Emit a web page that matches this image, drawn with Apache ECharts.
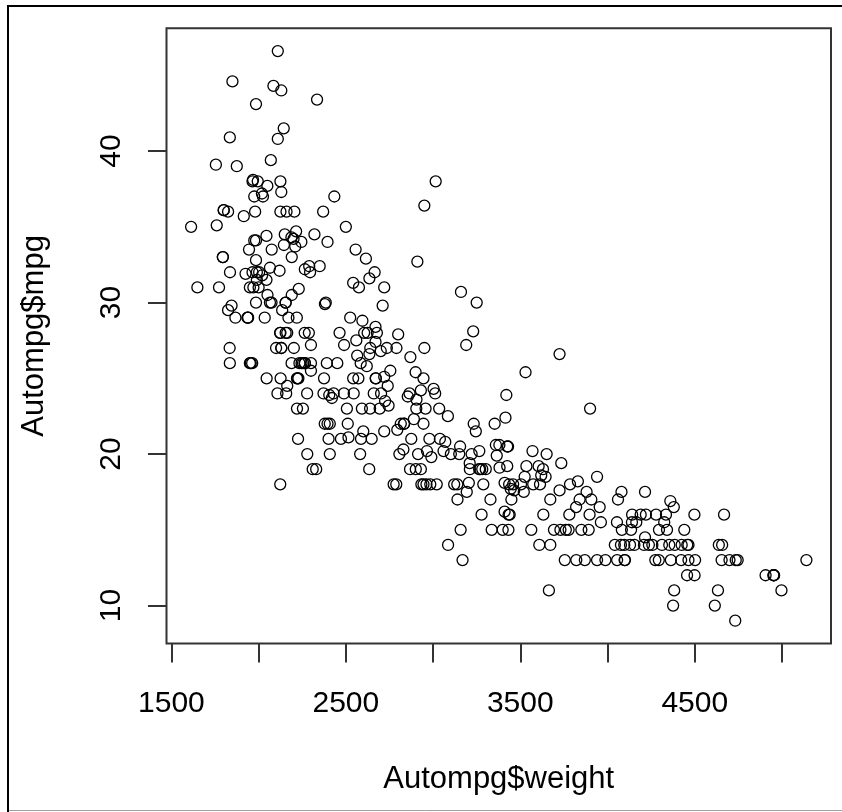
<!DOCTYPE html>
<html>
<head>
<meta charset="utf-8">
<script src="https://cdn.jsdelivr.net/npm/echarts@6/dist/echarts.min.js"></script>
<style>
html,body{margin:0;padding:0;background:#fff;}
#chart{width:842px;height:812px;}
</style>
</head>
<body>
<div id="chart"></div>
<script>
var weight = [3504,3693,3436,3433,3449,4341,4354,4312,4425,3850,3563,3609,3761,3086,2372,2833,2774,2587,2130,1835,
2672,2430,2375,2234,2648,4615,4376,4382,4732,2130,2264,2228,2046,2634,3439,3329,3302,3288,4209,4464,
4154,4096,4955,4746,5140,2962,2408,3282,3139,2220,2123,2074,2065,1773,1613,1834,1955,2278,2126,2254,
2408,2226,4274,4385,4135,4129,3672,4633,4502,4456,4422,2330,3892,4098,4294,4077,2933,2511,2979,2189,
2395,2288,2506,2164,2100,4100,3672,3988,4042,3777,4952,4464,4363,4237,4735,4951,3821,3121,3278,2945,
3021,2904,1950,4997,4906,4654,4499,2789,2279,2401,2379,2124,2310,2472,2265,4082,4278,1867,2158,2582,
2868,3399,2660,2807,3664,3102,2875,2901,3336,1950,2451,1836,2542,3781,3632,3613,4141,4699,4457,4638,
4257,2219,1963,2300,1649,2003,2125,2108,2246,2489,2391,2000,3264,3459,3432,3158,4668,4440,4498,4657,
3907,3897,3730,3785,3039,3221,3169,2171,2639,2914,2592,2702,2223,2545,2984,1937,3211,2694,2957,2945,
2671,1795,2464,2220,2572,2255,2202,4215,4190,3962,4215,3233,3353,3012,3085,2035,2164,1937,1795,3651,
3574,3645,3193,1825,1990,2155,2565,3150,3940,3270,2930,3820,4380,4055,3870,3755,2045,2155,1825,2300,
1945,3880,4060,4140,4295,3520,3425,3630,3525,4220,4165,4325,4335,1940,2740,2265,2755,2051,2075,1985,
2190,2815,2600,2720,1985,1800,1985,2070,1800,3365,3735,3570,3535,3155,2965,2720,3430,3210,3380,3070,
3620,3410,3425,3445,3205,4080,2155,2560,2300,2230,2515,2745,2855,2405,2830,3140,2795,3410,1990,2135,
3245,2990,2890,3265,3360,3840,3725,3955,3830,4360,4054,3605,3940,1925,1975,1915,2670,3530,3900,3190,
3420,2200,2150,2020,2130,2670,2595,2700,2556,2144,1968,2120,2019,2678,2870,3003,3381,2188,2711,2542,
2434,2265,2110,2800,2110,2085,2335,2950,3250,1850,1835,2145,1845,2910,2420,2500,2905,2290,2490,2635,
2620,2725,2385,1755,1875,1760,2065,1975,2050,1985,2215,2045,2380,2190,2320,2210,2350,2615,2635,3230,
3160,2900,2930,3415,3725,3060,3465,2605,2640,2395,2575,2525,2735,2865,3035,1980,2025,1970,2125,2125,
2160,2205,2245,1965,1965,1995,2945,3015,2585,2835,2665,2370,2950,2790,2130,2295,2625,2720];

var mpg = [18,15,18,16,17,15,14,14,14,15,15,14,15,14,24,22,18,21,27,26,
25,24,25,26,21,10,10,11,9,27,28,25,25,19,16,17,19,18,14,14,
14,14,12,13,13,18,22,19,18,23,28,30,30,31,35,27,26,24,25,23,
20,21,13,14,15,14,17,11,13,12,13,19,15,13,13,14,18,22,21,26,
22,28,23,28,27,13,14,13,14,15,12,13,13,14,13,12,13,18,16,18,
18,23,26,11,12,13,12,18,20,21,22,18,19,21,26,15,16,29,24,20,
19,15,24,20,11,20,21,19,15,31,26,32,25,16,16,18,16,13,14,14,
14,29,26,26,31,32,28,24,26,24,26,31,19,18,15,15,16,15,16,14,
17,16,15,18,21,20,13,29,23,20,23,24,25,24,18,29,19,23,23,22,
25,33,28,25,25,26,27,17.5,16,15.5,14.5,22,22,24,22.5,29,24.5,29,33,20,
18,18.5,17.5,29.5,32,28,26.5,20,13,19,19,16.5,16.5,13,13,13,31.5,30,36,25.5,
33.5,17.5,17,15.5,15,17.5,20.5,19,18.5,16,15.5,15.5,16,29,24.5,26,25.5,30.5,33.5,30,
30.5,22,21.5,21.5,43.1,36.1,32.8,39.4,36.1,19.9,19.4,20.2,19.2,20.5,20.2,25.1,20.5,19.4,20.6,20.8,
18.6,18.1,19.2,17.7,18.1,17.5,30,27.5,27.2,30.9,21.1,23.2,23.8,23.9,20.3,17,21.6,16.2,31.5,29.5,
21.5,19.8,22.3,20.2,20.6,17,17.6,16.5,18.2,16.9,15.5,19.2,18.5,31.9,34.1,35.7,27.4,25.4,23,27.2,
23.9,34.2,34.5,31.8,37.3,28.4,28.8,26.8,33.5,41.5,38.1,32.1,37.2,28,26.4,24.3,19.1,34.3,29.8,31.3,
37,32.2,46.6,27.9,40.8,44.3,43.4,36.4,30,44.6,40.9,33.8,29.8,32.7,23.7,35,23.6,32.4,27.2,26.6,
25.8,23.5,30,39.1,39,35.1,32.3,37,37.7,34.1,34.7,34.4,29.9,33,34.5,33.7,32.4,32.9,31.6,28.1,
30.7,25.4,24.2,22.4,26.6,20.2,17.6,28,27,34,31,29,27,24,23,36,37,31,38,36,
36,36,34,38,32,38,25,38,26,22,32,36,27,27,44,32,28,31];

var xTickValues = [1500,2000,2500,3000,3500,4000,4500,5000];
var xLabelValues = [1500,2500,3500,4500];
var yTickValues = [10,20,30,40];
var yLabelValues = [10,20,30,40];

var points = weight.map(function (w, i) { return [w, mpg[i]]; });

var FONT = "'Liberation Sans', Arial, sans-serif";
var plain = function (v) { return String(v); };
var chart = echarts.init(document.getElementById('chart'), null, {renderer: 'canvas'});
chart.setOption({
  backgroundColor: '#ffffff',
  animation: false,
  textStyle: {fontFamily: FONT},
  grid: {
    left: 166.5, right: 11, top: 28.3, bottom: 168.5,
    show: true, borderColor: '#333', borderWidth: 2, backgroundColor: 'transparent'
  },
  xAxis: {
    type: 'value', min: 1472, max: 5281,
    axisLine: {show: false},
    splitLine: {show: false},
    axisTick: {show: true, customValues: xTickValues, length: 19, lineStyle: {color: '#333', width: 2}},
    axisLabel: {customValues: xLabelValues, formatter: plain, margin: 60, verticalAlign: 'middle', fontSize: 30, color: '#000', fontFamily: FONT},
    name: 'Autompg$weight', nameLocation: 'middle', nameGap: 136,
    nameTextStyle: {fontSize: 31, color: '#000', verticalAlign: 'middle', fontFamily: FONT}
  },
  yAxis: {
    type: 'value', min: 7.496, max: 48.104,
    axisLine: {show: false},
    splitLine: {show: false},
    axisTick: {show: true, customValues: yTickValues, length: 18.5, lineStyle: {color: '#333', width: 2}},
    axisLabel: {customValues: yLabelValues, formatter: plain, rotate: 90, align: 'center', verticalAlign: 'middle', margin: 55, fontSize: 30, color: '#000', fontFamily: FONT},
    name: 'Autompg$mpg', nameLocation: 'middle', nameGap: 132, nameRotate: 90,
    nameTextStyle: {fontSize: 31, color: '#000', verticalAlign: 'middle', fontFamily: FONT}
  },
  series: [{
    type: 'scatter',
    data: points,
    symbol: 'circle',
    symbolSize: 11,
    silent: true,
    itemStyle: {color: 'rgba(0,0,0,0)', borderColor: '#000', borderWidth: 1.3, opacity: 1}
  }],
  graphic: [
    {type: 'line', shape: {x1: 7, y1: 6, x2: 842, y2: 6}, style: {stroke: '#000', lineWidth: 2}, silent: true},
    {type: 'line', shape: {x1: 8, y1: 5, x2: 8, y2: 812}, style: {stroke: '#000', lineWidth: 2}, silent: true},
    {type: 'line', shape: {x1: 9, y1: 810.5, x2: 842, y2: 810.5}, style: {stroke: '#a0a0a0', lineWidth: 1}, silent: true}
  ]
});
</script>
</body>
</html>
